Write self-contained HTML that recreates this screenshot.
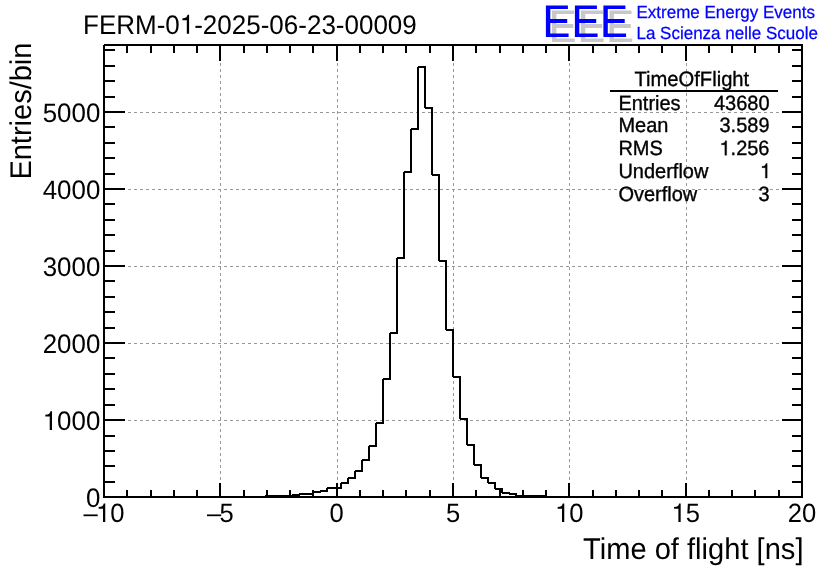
<!DOCTYPE html>
<html><head><meta charset="utf-8"><title>TimeOfFlight</title>
<style>
html,body{margin:0;padding:0;background:#fff;}
body{width:836px;height:572px;overflow:hidden;}
svg{display:block;will-change:transform;font-family:"Liberation Sans",sans-serif;}
text{font-family:"Liberation Sans",sans-serif;fill:#000;text-rendering:geometricPrecision;}
.h1{fill:none !important;stroke:none !important;}
</style></head><body>
<svg width="836" height="572" viewBox="0 0 836 572">
<rect x="0" y="0" width="836" height="572" fill="#fff"/>
<g stroke="#999" stroke-width="1" stroke-dasharray="3 3" shape-rendering="crispEdges" fill="none">
<line x1="220.5" y1="45" x2="220.5" y2="497"/>
<line x1="337.5" y1="45" x2="337.5" y2="497"/>
<line x1="453.5" y1="45" x2="453.5" y2="497"/>
<line x1="569.5" y1="45" x2="569.5" y2="497"/>
<line x1="686.5" y1="45" x2="686.5" y2="497"/>
<line x1="104" y1="420.5" x2="802" y2="420.5"/>
<line x1="104" y1="343.5" x2="802" y2="343.5"/>
<line x1="104" y1="266.5" x2="802" y2="266.5"/>
<line x1="104" y1="189.5" x2="802" y2="189.5"/>
<line x1="104" y1="112.5" x2="802" y2="112.5"/>
</g>
<polyline points="104,497 265,497 265,496 292,496 292,495 299,495 299,494 313,494 313,492 320,492 320,491 327,491 327,488 341,488 341,483 348,483 348,478 355,478 355,471 362,471 362,460 369,460 369,446 376,446 376,423 383,423 383,379 390,379 390,333 397,333 397,258 404,258 404,172 411,172 411,129 418,129 418,67 425,67 425,108 432,108 432,175 439,175 439,261 446,261 446,330 453,330 453,377 460,377 460,419 467,419 467,445 474,445 474,465 481,465 481,478 488,478 488,483 495,483 495,489 502,489 502,493 509,493 509,494 516,494 516,496 544,496 544,497 802,497" fill="none" stroke="#000" stroke-width="2" stroke-linejoin="bevel" stroke-linecap="butt" shape-rendering="crispEdges"/>
<g fill="#000" shape-rendering="crispEdges">
<rect x="104" y="44" width="699" height="2"/>
<rect x="103" y="496" width="700" height="2"/>
<rect x="103" y="45" width="2" height="453"/>
<rect x="801" y="44" width="2" height="454"/>
<rect x="103" y="483" width="2" height="14"/>
<rect x="103" y="45" width="2" height="16"/>
<rect x="126" y="490" width="2" height="7"/>
<rect x="126" y="45" width="2" height="8"/>
<rect x="150" y="490" width="2" height="7"/>
<rect x="150" y="45" width="2" height="8"/>
<rect x="173" y="490" width="2" height="7"/>
<rect x="173" y="45" width="2" height="8"/>
<rect x="196" y="490" width="2" height="7"/>
<rect x="196" y="45" width="2" height="8"/>
<rect x="219" y="483" width="2" height="14"/>
<rect x="219" y="45" width="2" height="16"/>
<rect x="243" y="490" width="2" height="7"/>
<rect x="243" y="45" width="2" height="8"/>
<rect x="266" y="490" width="2" height="7"/>
<rect x="266" y="45" width="2" height="8"/>
<rect x="289" y="490" width="2" height="7"/>
<rect x="289" y="45" width="2" height="8"/>
<rect x="312" y="490" width="2" height="7"/>
<rect x="312" y="45" width="2" height="8"/>
<rect x="336" y="483" width="2" height="14"/>
<rect x="336" y="45" width="2" height="16"/>
<rect x="359" y="490" width="2" height="7"/>
<rect x="359" y="45" width="2" height="8"/>
<rect x="382" y="490" width="2" height="7"/>
<rect x="382" y="45" width="2" height="8"/>
<rect x="405" y="490" width="2" height="7"/>
<rect x="405" y="45" width="2" height="8"/>
<rect x="429" y="490" width="2" height="7"/>
<rect x="429" y="45" width="2" height="8"/>
<rect x="452" y="483" width="2" height="14"/>
<rect x="452" y="45" width="2" height="16"/>
<rect x="475" y="490" width="2" height="7"/>
<rect x="475" y="45" width="2" height="8"/>
<rect x="499" y="490" width="2" height="7"/>
<rect x="499" y="45" width="2" height="8"/>
<rect x="522" y="490" width="2" height="7"/>
<rect x="522" y="45" width="2" height="8"/>
<rect x="545" y="490" width="2" height="7"/>
<rect x="545" y="45" width="2" height="8"/>
<rect x="568" y="483" width="2" height="14"/>
<rect x="568" y="45" width="2" height="16"/>
<rect x="592" y="490" width="2" height="7"/>
<rect x="592" y="45" width="2" height="8"/>
<rect x="615" y="490" width="2" height="7"/>
<rect x="615" y="45" width="2" height="8"/>
<rect x="638" y="490" width="2" height="7"/>
<rect x="638" y="45" width="2" height="8"/>
<rect x="661" y="490" width="2" height="7"/>
<rect x="661" y="45" width="2" height="8"/>
<rect x="685" y="483" width="2" height="14"/>
<rect x="685" y="45" width="2" height="16"/>
<rect x="708" y="490" width="2" height="7"/>
<rect x="708" y="45" width="2" height="8"/>
<rect x="731" y="490" width="2" height="7"/>
<rect x="731" y="45" width="2" height="8"/>
<rect x="754" y="490" width="2" height="7"/>
<rect x="754" y="45" width="2" height="8"/>
<rect x="778" y="490" width="2" height="7"/>
<rect x="778" y="45" width="2" height="8"/>
<rect x="801" y="483" width="2" height="14"/>
<rect x="801" y="45" width="2" height="16"/>
<rect x="104" y="496" width="21" height="2"/>
<rect x="782" y="496" width="20" height="2"/>
<rect x="104" y="481" width="11" height="2"/>
<rect x="792" y="481" width="10" height="2"/>
<rect x="104" y="465" width="11" height="2"/>
<rect x="792" y="465" width="10" height="2"/>
<rect x="104" y="450" width="11" height="2"/>
<rect x="792" y="450" width="10" height="2"/>
<rect x="104" y="435" width="11" height="2"/>
<rect x="792" y="435" width="10" height="2"/>
<rect x="104" y="419" width="21" height="2"/>
<rect x="782" y="419" width="20" height="2"/>
<rect x="104" y="404" width="11" height="2"/>
<rect x="792" y="404" width="10" height="2"/>
<rect x="104" y="388" width="11" height="2"/>
<rect x="792" y="388" width="10" height="2"/>
<rect x="104" y="373" width="11" height="2"/>
<rect x="792" y="373" width="10" height="2"/>
<rect x="104" y="357" width="11" height="2"/>
<rect x="792" y="357" width="10" height="2"/>
<rect x="104" y="342" width="21" height="2"/>
<rect x="782" y="342" width="20" height="2"/>
<rect x="104" y="327" width="11" height="2"/>
<rect x="792" y="327" width="10" height="2"/>
<rect x="104" y="311" width="11" height="2"/>
<rect x="792" y="311" width="10" height="2"/>
<rect x="104" y="296" width="11" height="2"/>
<rect x="792" y="296" width="10" height="2"/>
<rect x="104" y="280" width="11" height="2"/>
<rect x="792" y="280" width="10" height="2"/>
<rect x="104" y="265" width="21" height="2"/>
<rect x="782" y="265" width="20" height="2"/>
<rect x="104" y="250" width="11" height="2"/>
<rect x="792" y="250" width="10" height="2"/>
<rect x="104" y="234" width="11" height="2"/>
<rect x="792" y="234" width="10" height="2"/>
<rect x="104" y="219" width="11" height="2"/>
<rect x="792" y="219" width="10" height="2"/>
<rect x="104" y="203" width="11" height="2"/>
<rect x="792" y="203" width="10" height="2"/>
<rect x="104" y="188" width="21" height="2"/>
<rect x="782" y="188" width="20" height="2"/>
<rect x="104" y="173" width="11" height="2"/>
<rect x="792" y="173" width="10" height="2"/>
<rect x="104" y="157" width="11" height="2"/>
<rect x="792" y="157" width="10" height="2"/>
<rect x="104" y="142" width="11" height="2"/>
<rect x="792" y="142" width="10" height="2"/>
<rect x="104" y="126" width="11" height="2"/>
<rect x="792" y="126" width="10" height="2"/>
<rect x="104" y="111" width="21" height="2"/>
<rect x="782" y="111" width="20" height="2"/>
<rect x="104" y="96" width="11" height="2"/>
<rect x="792" y="96" width="10" height="2"/>
<rect x="104" y="80" width="11" height="2"/>
<rect x="792" y="80" width="10" height="2"/>
<rect x="104" y="65" width="11" height="2"/>
<rect x="792" y="65" width="10" height="2"/>
<rect x="104" y="49" width="11" height="2"/>
<rect x="792" y="49" width="10" height="2"/>
</g>
<g class="lab" text-anchor="middle">
<text transform="translate(104.0,522) scale(0.97,1)" font-size="26.39px" text-anchor="middle">–<tspan dx="-1.7"><tspan class="h1" id="one0">1</tspan>0</tspan></text>
<text transform="translate(220.3,522) scale(0.97,1)" font-size="26.39px" text-anchor="middle">–<tspan dx="-1.7">5</tspan></text>
<text transform="translate(336.7,522) scale(0.97,1)" font-size="26.39px" text-anchor="middle">0</text>
<text transform="translate(453.0,522) scale(0.97,1)" font-size="26.39px" text-anchor="middle">5</text>
<text transform="translate(569.3,522) scale(0.97,1)" font-size="26.39px" text-anchor="middle"><tspan class="h1" id="one1">1</tspan>0</text>
<text transform="translate(685.7,522) scale(0.97,1)" font-size="26.39px" text-anchor="middle"><tspan class="h1" id="one2">1</tspan>5</text>
<text transform="translate(802.0,522) scale(0.97,1)" font-size="26.39px" text-anchor="middle">20</text>
</g>
<g class="lab" text-anchor="end">
<text transform="translate(100.3,507.4) scale(0.97,1)" font-size="26.70px" text-anchor="end">0</text>
<text transform="translate(100.3,430.0) scale(0.97,1)" font-size="26.70px" text-anchor="end"><tspan class="h1" id="one3">1</tspan>000</text>
<text transform="translate(100.3,353.0) scale(0.97,1)" font-size="26.70px" text-anchor="end">2000</text>
<text transform="translate(100.3,276.0) scale(0.97,1)" font-size="26.70px" text-anchor="end">3000</text>
<text transform="translate(100.3,199.0) scale(0.97,1)" font-size="26.70px" text-anchor="end">4000</text>
<text transform="translate(100.3,122.0) scale(0.97,1)" font-size="26.70px" text-anchor="end">5000</text>
</g>
<text transform="translate(83,33.7) scale(0.97,1)" font-size="26.80px">FERM-0<tspan class="h1" id="one4">1</tspan>-2025-06-23-00009</text>
<text transform="translate(803.5,559) scale(0.97,1)" font-size="30.00px" text-anchor="end">Time of flight [ns]</text>
<text transform="translate(30.6,42.6) rotate(-90) scale(0.97,1)" font-size="29.90px" text-anchor="end">Entries/bin</text>
<rect x="610" y="90" width="168" height="2" fill="#000" shape-rendering="crispEdges"/>
<text transform="translate(691.8,85.5) scale(0.97,1)" font-size="20.82px" text-anchor="middle" style="stroke:#000;stroke-width:0.35px;">TimeOfFlight</text>
<text transform="translate(618.4,109.5) scale(0.97,1)" font-size="20.62px" style="stroke:#000;stroke-width:0.35px;">Entries</text>
<text transform="translate(769.5,109.5) scale(0.97,1)" font-size="20.62px" text-anchor="end" style="stroke:#000;stroke-width:0.35px;">43680</text>
<text transform="translate(618.4,132.3) scale(0.97,1)" font-size="20.62px" style="stroke:#000;stroke-width:0.35px;">Mean</text>
<text transform="translate(769.5,132.3) scale(0.97,1)" font-size="20.62px" text-anchor="end" style="stroke:#000;stroke-width:0.35px;">3.589</text>
<text transform="translate(618.4,155.2) scale(0.97,1)" font-size="20.62px" style="stroke:#000;stroke-width:0.35px;">RMS</text>
<text transform="translate(769.5,155.2) scale(0.97,1)" font-size="20.62px" text-anchor="end" style="stroke:#000;stroke-width:0.35px;"><tspan class="h1" id="one5">1</tspan>.256</text>
<text transform="translate(618.4,178.1) scale(0.97,1)" font-size="20.62px" style="stroke:#000;stroke-width:0.35px;">Underflow</text>
<text transform="translate(771.1,178.1) scale(0.97,1)" font-size="20.62px" text-anchor="end" style="stroke:#000;stroke-width:0.35px;"><tspan class="h1" id="one6">1</tspan></text>
<text transform="translate(618.4,200.9) scale(0.97,1)" font-size="20.62px" style="stroke:#000;stroke-width:0.35px;">Overflow</text>
<text transform="translate(769.5,200.9) scale(0.97,1)" font-size="20.62px" text-anchor="end" style="stroke:#000;stroke-width:0.35px;">3</text>
<path fill="#c8c8c8" d="M552.0,10.5h22v3.5h-17.6v10h16.9v4.1h-16.9v10.5h18.3v3.5h-22.7z"/>
<path fill="#c8c8c8" d="M580.9,10.5h22v3.5h-17.6v10h16.9v4.1h-16.9v10.5h18.3v3.5h-22.7z"/>
<path fill="#c8c8c8" d="M609.5,10.5h22v3.5h-17.6v10h16.9v4.1h-16.9v10.5h18.3v3.5h-22.7z"/>
<path fill="#0000ff" d="M545.9,5.4h22v3.5h-17.6v10h16.9v4.1h-16.9v10.5h18.3v3.5h-22.7z"/>
<path fill="#0000ff" d="M574.9,5.4h22v3.5h-17.6v10h16.9v4.1h-16.9v10.5h18.3v3.5h-22.7z"/>
<path fill="#0000ff" d="M603.4,5.4h22v3.5h-17.6v10h16.9v4.1h-16.9v10.5h18.3v3.5h-22.7z"/>
<text transform="translate(636.5,17.8) scale(0.97,1)" font-size="17.53px" style="fill:#0000ff;stroke:#0000ff;stroke-width:0.25px;">Extreme Energy Events</text>
<text transform="translate(636.5,38.8) scale(0.97,1)" font-size="17.53px" style="fill:#0000ff;stroke:#0000ff;stroke-width:0.25px;">La Scienza nelle Scuole</text>
<path transform="translate(96.06,522) scale(0.02560,-0.02639)" d="M271 0V505H101V568Q190 572 237 600Q283 630 300 703H359V0Z" fill="#000"/>
<path transform="translate(555.07,522) scale(0.02560,-0.02639)" d="M271 0V505H101V568Q190 572 237 600Q283 630 300 703H359V0Z" fill="#000"/>
<path transform="translate(671.47,522) scale(0.02560,-0.02639)" d="M271 0V505H101V568Q190 572 237 600Q283 630 300 703H359V0Z" fill="#000"/>
<path transform="translate(42.71,430.0) scale(0.02590,-0.02670)" d="M271 0V505H101V568Q190 572 237 600Q283 630 300 703H359V0Z" fill="#000"/>
<path transform="translate(179.76,33.7) scale(0.02600,-0.02680)" d="M271 0V505H101V568Q190 572 237 600Q283 630 300 703H359V0Z" fill="#000"/>
<path transform="translate(719.45,155.2) scale(0.02000,-0.02062)" d="M271 0V505H101V568Q190 572 237 600Q283 630 300 703H359V0Z" fill="#000" stroke="#000" stroke-width="17.0"/>
<path transform="translate(759.98,178.1) scale(0.02000,-0.02062)" d="M271 0V505H101V568Q190 572 237 600Q283 630 300 703H359V0Z" fill="#000" stroke="#000" stroke-width="17.0"/>
</svg></body></html>
